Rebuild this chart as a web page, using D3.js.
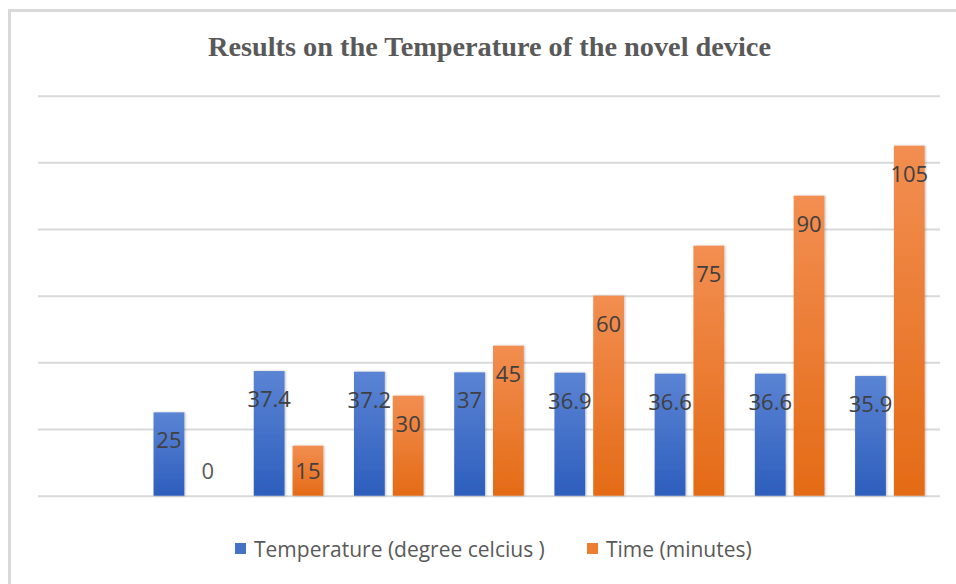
<!DOCTYPE html>
<html><head><meta charset="utf-8">
<script src="https://cdn.jsdelivr.net/npm/d3@7"></script>
<style>body{margin:0;background:#fff}svg{display:block}</style>
</head><body>
<script>
const title = "Results on the Temperature of the novel device";
const categories = ["c0","c1","c2","c3","c4","c5","c6","c7","c8"];
const seriesNames = ["Temperature (degree celcius )", "Time (minutes)"];
const temperature = [null, 25, 37.4, 37.2, 37, 36.9, 36.6, 36.6, 35.9];
const timeMinutes = [null, 0, 15, 30, 45, 60, 75, 90, 105];
const yTicks = [0, 20, 40, 60, 80, 100, 120];

const W = 956, H = 584;
const svg = d3.select("body").append("svg").attr("width", W).attr("height", H);
const defs = svg.append("defs");
function grad(id, c1, c2){
  const g = defs.append("linearGradient").attr("id", id).attr("x1",0).attr("y1",0).attr("x2",0).attr("y2",1);
  g.append("stop").attr("offset","0%").attr("stop-color",c1);
  g.append("stop").attr("offset","100%").attr("stop-color",c2);
}
grad("gBlue", "#5b84d4", "#2d5ebd");
grad("gOrange", "#f28e51", "#e46b16");
const f = defs.append("filter").attr("id","sh").attr("x","-20%").attr("y","-5%").attr("width","140%").attr("height","110%");
f.append("feDropShadow").attr("dx",1).attr("dy",0).attr("stdDeviation",1.2).attr("flood-color","#000").attr("flood-opacity",0.25);

// chart border
svg.append("path").attr("d","M9.5,"+(H+5)+"V10.5H"+(W+5))
  .attr("fill","none").attr("stroke","#d9d9d9").attr("stroke-width",3);

const x0 = d3.scaleBand().domain(categories).range([38, 940]).paddingInner(0).paddingOuter(0);
const y = d3.scaleLinear().domain([0, 120]).range([495.7, 95.7]);

// gridlines via axis
const grid = svg.append("g").attr("transform","translate(38,0)")
  .call(d3.axisLeft(y).tickValues(yTicks).tickSize(-902).tickFormat(""));
grid.select(".domain").remove();
grid.selectAll(".tick line").attr("stroke","#d9d9d9").attr("stroke-width",2);

const bw = 30.8, gap = 8;
const series = [
  {name: seriesNames[0], values: temperature, fill: "url(#gBlue)", sw: "#4472c4", off: -(gap/2 + bw)},
  {name: seriesNames[1], values: timeMinutes, fill: "url(#gOrange)", sw: "#ed7d31", off: gap/2}
];

series.forEach(s => {
  const data = categories.map((c,i)=>({c, v: s.values[i]})).filter(d => d.v !== null);
  const cx = d => x0(d.c) + x0.bandwidth()/2;
  svg.append("g").selectAll("rect").data(data.filter(d=>d.v>0)).join("rect")
    .attr("x", d => cx(d) + s.off).attr("width", bw)
    .attr("y", d => y(d.v)).attr("height", d => y(0) - y(d.v))
    .attr("fill", s.fill).attr("filter","url(#sh)");
  svg.append("g").selectAll("text").data(data).join("text")
    .attr("x", d => cx(d) + s.off + bw/2)
    .attr("y", d => Math.min(y(d.v) + 28, y(0) - 25))
    .attr("dy", "0.36em")
    .attr("text-anchor","middle")
    .attr("font-family","'Open Sans', 'Noto Sans', sans-serif")
    .attr("font-size", 22)
    .attr("fill", d => d.v === 0 ? "#595959" : "#404040")
    .text(d => d.v);
});

svg.append("text").attr("x", 489.5).attr("y", 56)
  .attr("text-anchor","middle")
  .attr("font-family","'Liberation Serif', 'Times New Roman', serif")
  .attr("font-weight","bold").attr("font-size", 28)
  .attr("textLength", 563).attr("lengthAdjust","spacingAndGlyphs")
  .attr("fill","#595959").text(title);

// legend
const legend = [
  {name: seriesNames[0], color: "#4472c4", x: 235},
  {name: seriesNames[1], color: "#ed7d31", x: 587}
];
const lg = svg.append("g");
legend.forEach(l => {
  lg.append("rect").attr("x", l.x).attr("y", 543).attr("width", 11).attr("height", 11).attr("fill", l.color);
  lg.append("text").attr("x", l.x + 19).attr("y", 549).attr("dy","0.36em")
    .attr("font-family","'Open Sans', 'Noto Sans', sans-serif").attr("font-size", 21)
    .attr("fill","#595959").text(l.name);
});
</script>
</body></html>
